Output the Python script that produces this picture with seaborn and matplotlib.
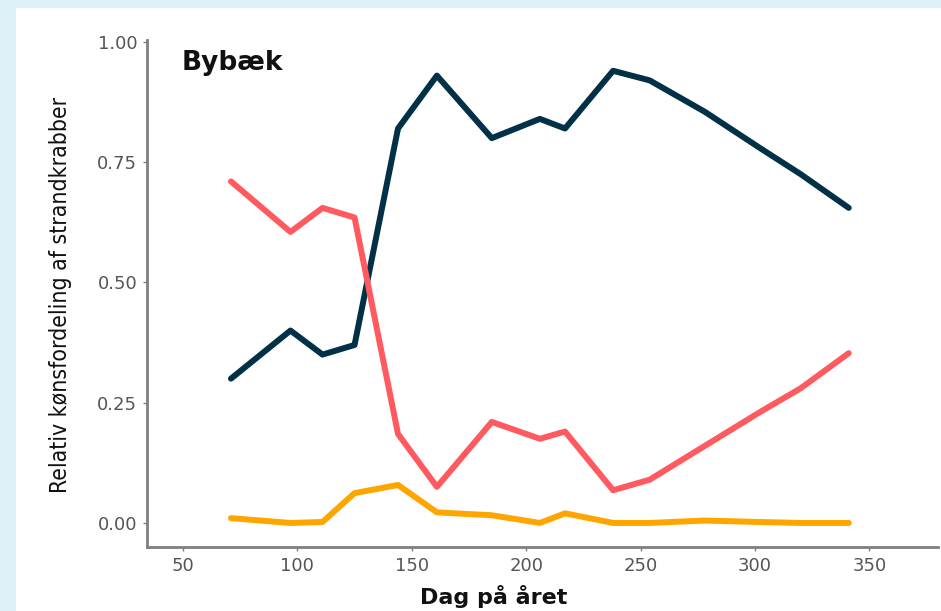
import pandas as pd
import numpy as np
import seaborn as sns
import matplotlib.pyplot as plt
from matplotlib.patches import Rectangle

# day of year for each sampling
dag = [71, 97, 111, 125, 144, 161, 185, 206, 217, 238, 254, 278, 302, 320, 341]
# relative sex distribution
hanner = [0.30, 0.40, 0.35, 0.37, 0.82, 0.93, 0.80, 0.84, 0.82, 0.94, 0.92, 0.855, 0.78, 0.725, 0.655]
hunner = [0.71, 0.605, 0.655, 0.635, 0.185, 0.075, 0.21, 0.175, 0.19, 0.068, 0.09, 0.16, 0.23, 0.28, 0.353]
ukendt = [0.01, 0.0, 0.002, 0.062, 0.079, 0.022, 0.016, 0.0, 0.02, 0.0, 0.0, 0.005, 0.002, 0.0, 0.0]

df = pd.DataFrame({"dag": dag * 3,
                   "andel": hanner + hunner + ukendt,
                   "koen": ["hanner"] * len(dag) + ["hunner"] * len(dag) + ["ukendt"] * len(dag)})
palette = {"hanner": "#023047", "hunner": "#ff5a5f", "ukendt": "#ffa500"}

sns.set_style("white")
plt.rcParams['font.family'] = ['DejaVu Sans']

fig = plt.figure(figsize=(9.41, 6.11), dpi=100)
fig.patch.set_facecolor("#dcf2f8")
fig.patches.append(Rectangle((16 / 941, 0), 1, 1 - 8 / 611, transform=fig.transFigure,
                             facecolor="white", edgecolor="none", zorder=-1))
ax = fig.add_axes([147 / 941, 1 - 547 / 611, (938 - 147) / 941, (547 - 40) / 611])
ax.set_facecolor("white")

sns.lineplot(ax=ax, data=df, x="dag", y="andel", hue="koen", palette=palette,
             linewidth=4.3, legend=False)

ax.set_xlim(34.3, 380)
ax.set_ylim(-0.05, 1.004)
ax.set_xticks([50, 100, 150, 200, 250, 300, 350])
ax.set_yticks([0, 0.25, 0.5, 0.75, 1.0])
ax.set_yticklabels(["0.00", "0.25", "0.50", "0.75", "1.00"])
sns.despine(ax=ax)
for s in ["left", "bottom"]:
    ax.spines[s].set_color("#7f7f7f")
    ax.spines[s].set_linewidth(2)
ax.tick_params(axis="both", colors="#7f7f7f", labelcolor="#555555", labelsize=13,
               length=3, width=1, left=True, bottom=True, pad=4)

ax.set_xlabel("")
ax.set_ylabel("")
fig.text(494 / 941, 1 - 596 / 611, "Dag på året", fontsize=16, fontweight="bold",
         color="#111111", ha="center", va="center")
fig.text(60 / 941, 1 - 295 / 611, "Relativ kønsfordeling af strandkrabber", rotation=90,
         fontsize=16.5, fontstretch="condensed", color="#111111", ha="center", va="center")
ax.text(0.044, 0.955, "Bybæk", transform=ax.transAxes, fontsize=19, fontweight="bold",
        color="#111111", va="center", ha="left")

plt.savefig("out.png", dpi=100, facecolor=fig.get_facecolor())
